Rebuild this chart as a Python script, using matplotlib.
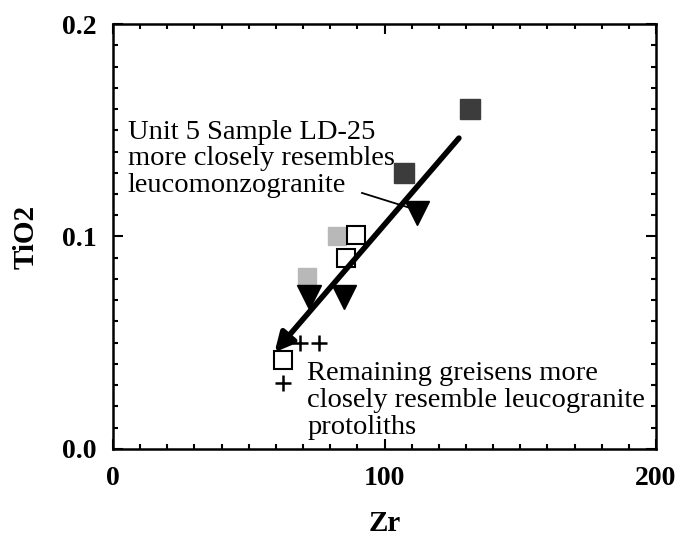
import numpy as np
import matplotlib.pyplot as plt
from matplotlib.ticker import MultipleLocator

plt.rcParams['font.family'] = ['Liberation Serif', 'DejaVu Serif']

# dark stippled squares
dark_zr = [131.5, 107.2]
dark_ti = [0.160, 0.130]
# light stippled squares
light_zr = [82.5, 71.4]
light_ti = [0.100, 0.081]
# open squares
open_zr = [89.5, 85.8, 62.6]
open_ti = [0.1005, 0.090, 0.042]
# filled triangles
tri_zr = [112.0, 72.2, 85.0]
tri_ti = [0.111, 0.0716, 0.0716]
# crosses
cross_zr = [69.0, 76.0, 62.6]
cross_ti = [0.050, 0.050, 0.031]

# trend arrow (start, end)
arrow_zr = [127.4, 59.5]
arrow_ti = [0.1463, 0.0455]

# leader line for upper note
lead_zr = [91.7, 108.5]
lead_ti = [0.1205, 0.1138]

fig = plt.figure(figsize=(6.78, 5.46), dpi=100)
ax = fig.add_axes([0.1667, 0.1777, 0.8009, 0.7783])

ax.plot(dark_zr, dark_ti, 's', ms=14, color='#3c3c3c', mec='#3c3c3c')
ax.plot(light_zr, light_ti, 's', ms=13, color='#b8b8b8', mec='#b8b8b8')
ax.plot(open_zr, open_ti, 's', ms=13, mfc='white', mec='black', mew=1.5)
ax.plot(tri_zr, tri_ti, 'v', ms=17, color='black')
ax.plot(cross_zr, cross_ti, '+', ms=11, mew=1.8, color='black')

ax.annotate('', xy=(arrow_zr[1], arrow_ti[1]), xytext=(arrow_zr[0], arrow_ti[0]),
            arrowprops=dict(arrowstyle='-|>', lw=4.0, color='black',
                            mutation_scale=28, shrinkA=0, shrinkB=0))

ax.plot(lead_zr, lead_ti, '-', lw=1.3, color='black')

ax.text(5.5, 0.1365, 'Unit 5 Sample LD-25\nmore closely resembles\nleucomonzogranite',
        fontsize=20.5, va='center', ha='left', linespacing=1.1)

ax.text(71.5, 0.023, 'Remaining greisens more\nclosely resemble leucogranite\nprotoliths',
        fontsize=20.5, va='center', ha='left', linespacing=1.1)

ax.set_xlim(0, 200)
ax.set_ylim(0, 0.2)
ax.set_xticks([0, 100, 200])
ax.set_yticks([0.0, 0.1, 0.2])
ax.set_yticklabels(['0.0', '0.1', '0.2'])
ax.xaxis.set_minor_locator(MultipleLocator(10))
ax.yaxis.set_minor_locator(MultipleLocator(0.01))
ax.tick_params(which='both', direction='in', top=True, right=True, width=1.5)
ax.tick_params(which='major', length=7, labelsize=20, pad=12)
ax.tick_params(which='minor', length=3.5)
for lab in ax.get_xticklabels() + ax.get_yticklabels():
    lab.set_fontweight('bold')
for sp in ax.spines.values():
    sp.set_linewidth(1.8)

ax.set_xlabel('Zr', fontsize=21, fontweight='bold', labelpad=14)
ax.set_ylabel('TiO2', fontsize=21, fontweight='bold', labelpad=16)

fig.savefig('out.png', dpi=100)
